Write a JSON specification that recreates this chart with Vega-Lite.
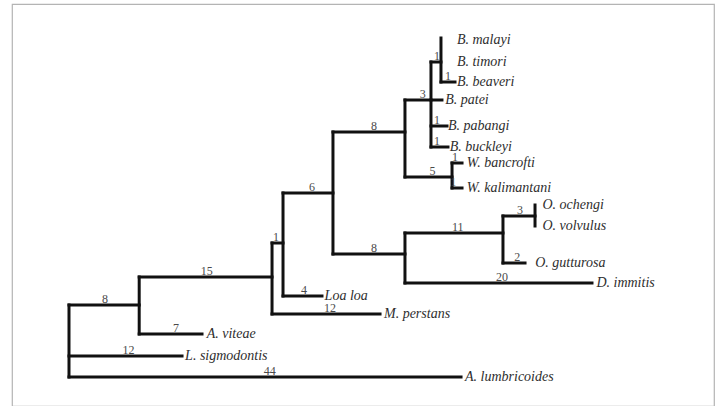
{
  "$schema": "https://vega.github.io/schema/vega-lite/v6.json",
  "width": 722,
  "height": 406,
  "autosize": {"type": "fit", "contains": "padding"},
  "padding": {"left": 12, "top": 4, "right": 8, "bottom": 0},
  "background": "white",
  "config": {"view": {"stroke": "#b4b4b4", "strokeWidth": 1.2}},
  "datasets": {
    "seg": [
      {"x": 0, "x2": 7.8, "y": 14.35, "y2": 14.35, "lab": "8", "lx": 4.0},
      {"x": 0, "x2": 12.56, "y": 16.9, "y2": 16.9, "lab": "12", "lx": 6.6},
      {"x": 0, "x2": 43.56, "y": 17.95, "y2": 17.95, "lab": "44", "lx": 22.3},
      {"x": 7.8, "x2": 22.56, "y": 12.95, "y2": 12.95, "lab": "15", "lx": 15.3},
      {"x": 7.8, "x2": 14.78, "y": 15.8, "y2": 15.8, "lab": "7", "lx": 11.9},
      {"x": 22.56, "x2": 23.78, "y": 11.25, "y2": 11.25, "lab": "1", "lx": 23.0},
      {"x": 22.56, "x2": 34.56, "y": 14.8, "y2": 14.8, "lab": "12", "lx": 29.0},
      {"x": 23.78, "x2": 29.33, "y": 8.75, "y2": 8.75, "lab": "6", "lx": 27.0},
      {"x": 23.78, "x2": 28.11, "y": 13.9, "y2": 13.9, "lab": "4", "lx": 26.1},
      {"x": 29.33, "x2": 37.33, "y": 5.7, "y2": 5.7, "lab": "8", "lx": 33.9},
      {"x": 29.33, "x2": 37.33, "y": 11.8, "y2": 11.8, "lab": "8", "lx": 33.9},
      {"x": 37.33, "x2": 40.22, "y": 4.1, "y2": 4.1, "lab": "3", "lx": 39.3},
      {"x": 37.33, "x2": 42.56, "y": 7.95, "y2": 7.95, "lab": "5", "lx": 40.4},
      {"x": 40.22, "x2": 41.33, "y": 2.2, "y2": 2.2, "lab": "1", "lx": 40.9},
      {"x": 40.22, "x2": 41.44, "y": 4.1, "y2": 4.1, "lab": null, "lx": null},
      {"x": 40.22, "x2": 42.0, "y": 5.4, "y2": 5.4, "lab": "1", "lx": 40.9},
      {"x": 40.22, "x2": 42.11, "y": 6.45, "y2": 6.45, "lab": "1", "lx": 40.9},
      {"x": 41.33, "x2": 42.89, "y": 3.2, "y2": 3.2, "lab": "1", "lx": 42.1},
      {"x": 42.56, "x2": 43.67, "y": 7.25, "y2": 7.25, "lab": "1", "lx": 42.9},
      {"x": 42.56, "x2": 43.67, "y": 8.5, "y2": 8.5, "lab": "1", "lx": 42.7},
      {"x": 37.33, "x2": 48.22, "y": 10.75, "y2": 10.75, "lab": "11", "lx": 43.2},
      {"x": 37.33, "x2": 58.11, "y": 13.25, "y2": 13.25, "lab": "20", "lx": 48.1},
      {"x": 48.22, "x2": 51.78, "y": 9.9, "y2": 9.9, "lab": "3", "lx": 50.1},
      {"x": 48.22, "x2": 50.67, "y": 12.25, "y2": 12.25, "lab": "2", "lx": 49.8},
      {"x": 0, "x2": 0, "y": 14.35, "y2": 17.95, "lab": null, "lx": null},
      {"x": 7.8, "x2": 7.8, "y": 12.95, "y2": 15.8, "lab": null, "lx": null},
      {"x": 22.56, "x2": 22.56, "y": 11.25, "y2": 14.8, "lab": null, "lx": null},
      {"x": 23.78, "x2": 23.78, "y": 8.75, "y2": 13.9, "lab": null, "lx": null},
      {"x": 29.33, "x2": 29.33, "y": 5.7, "y2": 11.8, "lab": null, "lx": null},
      {"x": 37.33, "x2": 37.33, "y": 4.1, "y2": 7.95, "lab": null, "lx": null},
      {"x": 40.22, "x2": 40.22, "y": 2.2, "y2": 6.45, "lab": null, "lx": null},
      {"x": 41.33, "x2": 41.33, "y": 1.0, "y2": 3.2, "lab": null, "lx": null},
      {"x": 42.56, "x2": 42.56, "y": 7.25, "y2": 8.5, "lab": null, "lx": null},
      {"x": 37.33, "x2": 37.33, "y": 10.75, "y2": 13.25, "lab": null, "lx": null},
      {"x": 48.22, "x2": 48.22, "y": 9.9, "y2": 12.25, "lab": null, "lx": null},
      {"x": 51.78, "x2": 51.78, "y": 9.35, "y2": 10.4, "lab": null, "lx": null}
    ],
    "tips": [
      {"name": "B. malayi", "x": 43.1, "y": 1.1},
      {"name": "B. timori", "x": 43.1, "y": 2.2},
      {"name": "B. beaveri", "x": 43.1, "y": 3.2},
      {"name": "B. patei", "x": 41.8, "y": 4.1},
      {"name": "B. pabangi", "x": 42.1, "y": 5.4},
      {"name": "B. buckleyi", "x": 42.3, "y": 6.45},
      {"name": "W. bancrofti", "x": 44.2, "y": 7.25},
      {"name": "W. kalimantani", "x": 44.2, "y": 8.5},
      {"name": "O. ochengi", "x": 52.6, "y": 9.35},
      {"name": "O. volvulus", "x": 52.6, "y": 10.4},
      {"name": "O. gutturosa", "x": 51.8, "y": 12.25},
      {"name": "D. immitis", "x": 58.6, "y": 13.25},
      {"name": "Loa loa", "x": 28.4, "y": 13.9},
      {"name": "M. perstans", "x": 35.0, "y": 14.8},
      {"name": "A. viteae", "x": 15.3, "y": 15.8},
      {"name": "L. sigmodontis", "x": 12.9, "y": 16.9},
      {"name": "A. lumbricoides", "x": 44.0, "y": 17.95}
    ]
  },
  "layer": [
    {
      "data": {"name": "seg"},
      "mark": {"type": "rule", "color": "#111111", "strokeWidth": 3, "strokeCap": "square"},
      "encoding": {
        "x": {"field": "x", "type": "quantitative", "axis": null, "scale": {"domain": [-6.333, 71.667], "nice": false, "zero": false}},
        "x2": {"field": "x2"},
        "y": {"field": "y", "type": "quantitative", "axis": null, "scale": {"domain": [-0.7, 19.4], "nice": false, "zero": false, "reverse": true}},
        "y2": {"field": "y2"}
      }
    },
    {
      "data": {"name": "seg"},
      "transform": [{"filter": "datum.lab != null"}],
      "mark": {"type": "text", "font": "Liberation Serif", "fontSize": 12, "fill": "#4a4a4a", "align": "center", "baseline": "bottom", "dy": 1},
      "encoding": {
        "x": {"field": "lx", "type": "quantitative"},
        "y": {"field": "y", "type": "quantitative"},
        "text": {"field": "lab"}
      }
    },
    {
      "data": {"name": "tips"},
      "mark": {"type": "text", "font": "Liberation Serif", "fontSize": 14, "fontStyle": "italic", "fill": "#2e2e2e", "align": "left", "baseline": "middle"},
      "encoding": {
        "x": {"field": "x", "type": "quantitative"},
        "y": {"field": "y", "type": "quantitative"},
        "text": {"field": "name"}
      }
    }
  ]
}
